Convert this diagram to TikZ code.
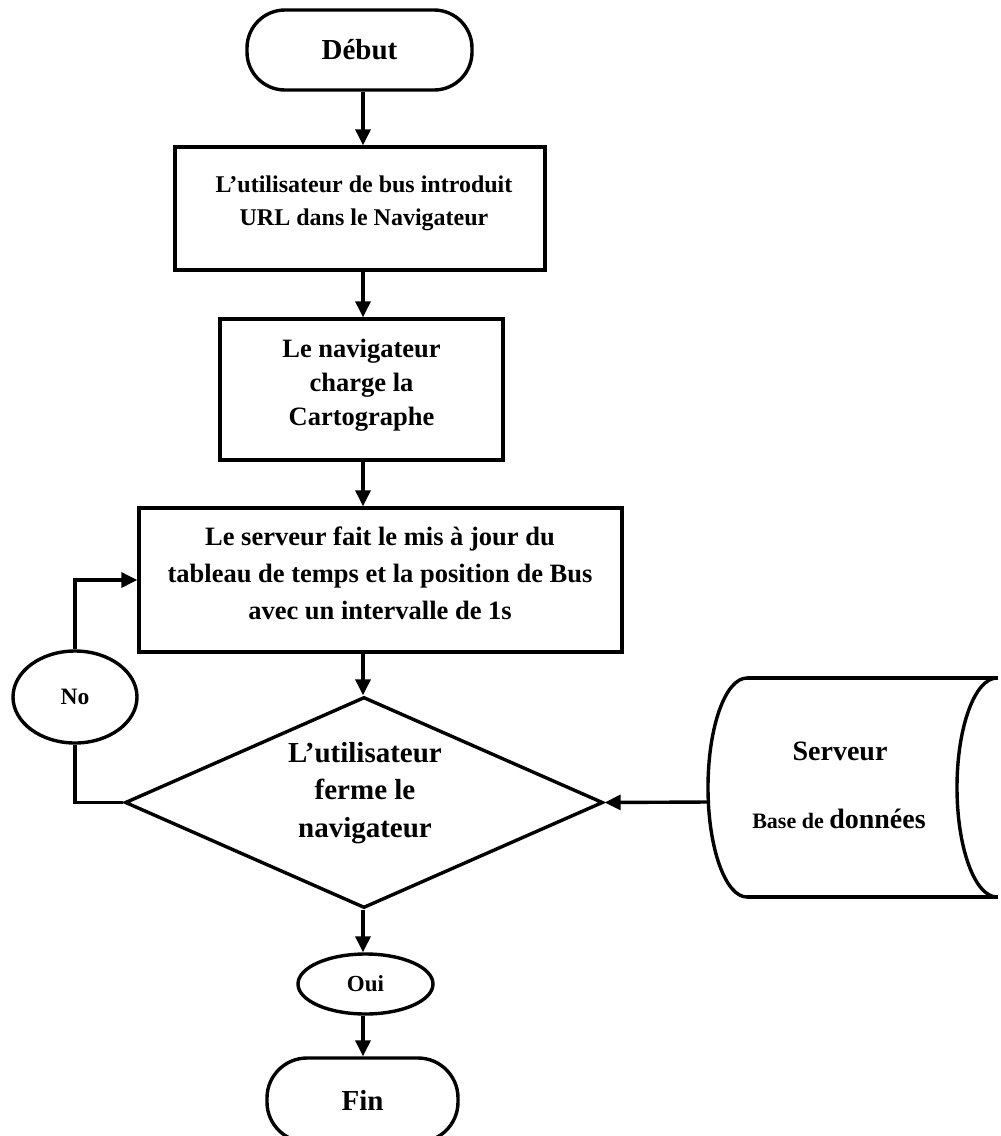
\documentclass[tikz,border=0pt]{standalone}
\usepackage{fontspec}
\setmainfont{Liberation Serif}
\usetikzlibrary{arrows.meta,shapes.geometric}

\begin{document}
\begin{tikzpicture}[x=1pt,y=-1pt,
  line width=3.4pt,
  flow/.style={draw, line width=3.4pt, inner sep=0pt},
  proc/.style={flow, rectangle},
  term/.style={flow, rectangle, rounded corners=38pt},
  oval/.style={flow, ellipse},
  arr/.style={-{Triangle[width=15pt,length=16pt]}, line width=3.4pt},
  lbl/.style={inner sep=0pt, align=center},
  fsz/.style n args={2}{font={\fontsize{#1}{#2}\selectfont\bfseries}}
]
\useasboundingbox (0,0) rectangle (1001,1136);

% vertical axis shared by the main connectors
\coordinate (spine) at (363,0);

% terminals
\node[term, minimum width=225pt, minimum height=80pt, fsz={29}{34}] (debut) at (359.5,50) {Début};
\node[term, rounded corners=40pt, minimum width=191pt, minimum height=84pt, fsz={29}{34}] (fin) at (362.5,1100) {Fin};

% process boxes
\node[proc, minimum width=370pt, minimum height=123pt] (box1) at (360,208.5) {};
\node[lbl, fsz={24}{33}] (t1) at (364,203) {L’utilisateur de bus introduit\\URL dans le Navigateur};

\node[proc, minimum width=283pt, minimum height=141pt] (box2) at (361.5,389.5) {};
\node[lbl, fsz={26.5}{34}] (t2) at (361.5,385) {Le navigateur\\charge la\\Cartographe};

\node[proc, minimum width=483pt, minimum height=144pt] (box3) at (380.5,580) {};
\node[lbl, fsz={26.5}{37}] (t3) at (380,573) {Le serveur fait le mis à jour du\\tableau de temps et la position de Bus\\avec un intervalle de 1s};

% decision
\node[flow, diamond, minimum width=478pt, minimum height=211pt] (dec) at (364,802.5) {};
\node[lbl, fsz={29}{37.5}] (t4) at (365,793) {L’utilisateur\\ferme le\\navigateur};

% answers
\node[oval, minimum width=124pt, minimum height=92pt, fsz={23.5}{28}] (no) at (75,697) {No};
\node[oval, minimum width=135pt, minimum height=60pt, fsz={23}{28}] (oui) at (365.5,984) {Oui};

% server / database storage
\coordinate (dbin) at (708.3,802);
\draw (747,678) -- (998,678);
\draw (747,897) -- (998,897);
\draw (747,678) arc[start angle=90, end angle=270, x radius=39, y radius=-109.5];
\draw (997,678) arc[start angle=90, end angle=270, x radius=40, y radius=-109.5];
\node[lbl, anchor=base, fsz={28}{32}] (srv) at (840,760) {Serveur};
\node[lbl, anchor=base, font=\bfseries] (bdd) at (839,828)
  {{\fontsize{22}{26}\selectfont Base de }{\fontsize{28}{32}\selectfont données}};

% connectors
\draw[arr] (debut.south -| spine) -- (box1.north -| spine);
\draw[arr] (box1.south -| spine) -- (box2.north -| spine);
\draw[arr] (box2.south -| spine) -- (box3.north -| spine);
\draw[arr] (box3.south -| spine) -- (dec.north -| spine);
\draw[arr] (dec.south -| spine) -- (oui.north -| spine);
\draw[arr] (oui.south -| spine) -- (fin.north -| spine);
\draw[arr] (no.north) |- (box3.west);
\draw (no.south) |- (dec.west);
\draw[arr] (dbin) -- (dec.east);
\end{tikzpicture}
\end{document}
